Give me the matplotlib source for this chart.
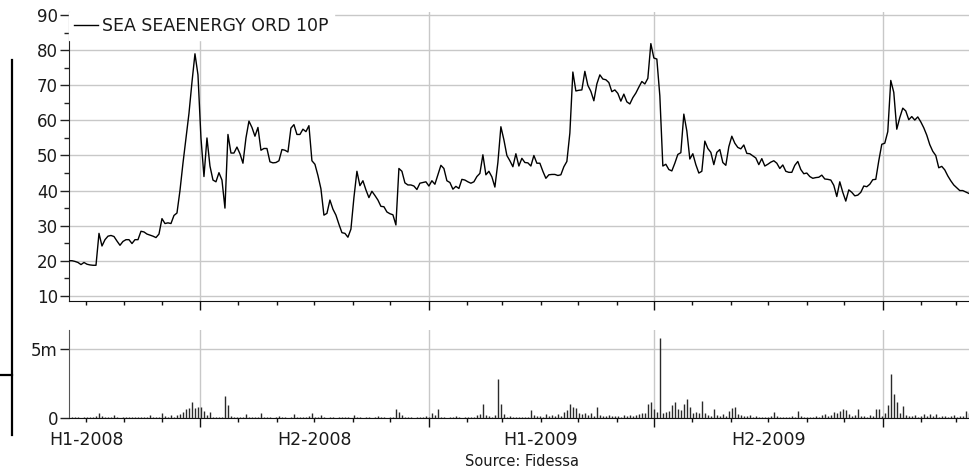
import matplotlib
matplotlib.use("Agg")
import matplotlib.pyplot as plt
import matplotlib.dates as mdates
from matplotlib.lines import Line2D
from matplotlib.ticker import MultipleLocator, FixedLocator, FuncFormatter, NullFormatter
import numpy as np
import pandas as pd

series_name = "SEA SEAENERGY ORD 10P"
source_text = "Source: Fidessa"
start_date = "2008-03-18"
end_date = "2010-03-11"
axis_start = "2008-03-18"
axis_end = "2010-03-12"

price = [
    20.0, 20.0, 19.8, 19.5, 18.9, 19.5, 19.0, 18.8, 18.7, 18.7,
    27.8, 24.2, 26.0, 27.0, 27.2, 26.9, 25.6, 24.4, 25.5, 26.0,
    26.0, 24.9, 26.0, 26.0, 28.4, 28.2, 27.6, 27.3, 27.0, 26.6,
    27.6, 32.0, 30.6, 30.8, 30.6, 32.9, 33.6, 40.0, 47.8, 55.0,
    62.0, 70.9, 79.0, 73.0, 55.0, 44.0, 55.0, 47.0, 43.0, 42.5,
    45.1, 43.0, 35.0, 56.0, 50.7, 50.7, 52.4, 50.5, 47.8, 55.0,
    59.8,
    58.0, 55.5, 58.0, 51.5, 52.0, 52.0, 48.2, 47.9, 48.0, 48.5,
    51.7, 51.5, 51.0, 57.8, 58.8, 56.0, 56.0, 57.5, 56.8, 58.5,
    48.5, 47.5, 44.3, 40.5, 33.0, 33.5, 37.3, 34.7, 33.0, 30.4,
    28.0, 27.8, 26.7, 29.0, 38.0, 45.5, 41.4, 42.8, 40.2, 38.0,
    39.8, 38.6, 37.3, 35.5, 35.4, 33.9, 33.4, 33.1, 30.2, 46.3,
    45.5, 42.2, 41.6, 41.6, 41.3, 40.3, 42.1, 42.3, 42.5, 41.3,
    42.8,
    41.8, 44.5, 47.2, 46.3, 42.8, 42.3, 40.4, 41.2, 40.6, 43.2,
    43.0, 42.5, 42.1, 42.5, 44.0, 44.9, 50.2, 44.5, 45.5, 43.9,
    41.0, 48.0, 58.2, 54.5, 50.0, 48.5, 46.8, 50.5, 47.0, 49.2,
    48.0, 47.9, 47.0, 50.0, 47.8, 47.8, 45.5, 43.5, 44.5, 44.6,
    44.6, 44.3, 44.5, 46.8, 48.3, 56.4, 73.8, 68.4, 68.6, 68.7,
    74.0, 70.0, 68.3, 65.6, 70.4, 73.0, 71.8, 71.6, 70.8, 68.2,
    68.7, 67.7, 65.5, 67.5, 65.3, 64.7, 66.5, 67.8, 69.5, 71.1,
    70.4, 72.0, 81.9, 77.8, 77.5, 67.0, 47.0, 47.5, 46.0,
    45.6, 47.8, 50.3, 50.8, 61.8, 57.0, 49.0, 50.5, 47.4, 45.0,
    45.5, 54.1, 52.0, 50.9, 47.4, 50.9, 51.7, 48.0, 47.2, 52.5,
    55.5, 53.5, 52.3, 51.9, 53.0, 50.6, 50.5, 49.9, 49.3, 47.4,
    49.1, 47.0, 47.5, 48.1, 48.5, 47.8, 46.3, 47.3, 45.5, 45.2,
    45.2, 47.2, 48.3, 46.0, 44.8, 45.0, 44.0, 43.5, 43.7, 43.8,
    44.4, 43.3, 43.2, 43.0, 41.5, 38.3, 42.5, 39.5, 37.0, 40.2,
    39.5, 38.5, 38.7, 39.5, 41.3, 41.1, 41.8, 43.1, 43.2, 48.5,
    53.2, 53.5, 56.8, 71.4, 68.0, 57.5, 60.8, 63.5, 62.7, 60.2,
    61.1, 60.1, 61.0, 59.6, 57.9, 55.8, 53.1, 51.2, 50.0, 46.5,
    46.9, 45.9, 44.2, 42.8, 41.6, 40.8, 40.0, 40.0, 39.6, 39.2,
]

volume_m = [
    0.05, 0.08, 0.06, 0.10, 0.05, 0.08, 0.12, 0.06, 0.10, 0.15,
    0.42, 0.20, 0.10, 0.08, 0.12, 0.22, 0.06, 0.04, 0.10, 0.08,
    0.06, 0.10, 0.06, 0.08, 0.10, 0.12, 0.08, 0.22, 0.06, 0.10,
    0.12, 0.42, 0.15, 0.10, 0.22, 0.10, 0.26, 0.30, 0.48, 0.68,
    0.72, 1.16, 0.77, 0.85, 0.82, 0.50, 0.25, 0.43, 0.08, 0.12,
    0.10, 0.12, 1.64, 1.00, 0.20, 0.10, 0.08, 0.12, 0.06, 0.28,
    0.10, 0.06, 0.08, 0.10, 0.41, 0.08, 0.06, 0.10, 0.05, 0.08,
    0.20, 0.06, 0.08, 0.05, 0.10, 0.34, 0.12, 0.06, 0.10, 0.08,
    0.15, 0.36, 0.12, 0.10, 0.25, 0.08, 0.05, 0.10, 0.06, 0.05,
    0.08, 0.06, 0.10, 0.08, 0.05, 0.22, 0.12, 0.06, 0.05, 0.08,
    0.06, 0.05, 0.10, 0.20, 0.06, 0.08, 0.05, 0.06, 0.10, 0.68,
    0.45, 0.25, 0.10, 0.06, 0.08, 0.05, 0.06, 0.10, 0.08, 0.20,
    0.10, 0.36, 0.25, 0.68, 0.12, 0.08, 0.05, 0.06, 0.08, 0.15,
    0.06, 0.05, 0.08, 0.10, 0.06, 0.12, 0.25, 0.30, 1.04, 0.25,
    0.20, 0.10, 0.25, 2.85, 1.04, 0.30, 0.12, 0.15, 0.08, 0.10,
    0.12, 0.08, 0.10, 0.12, 0.58, 0.25, 0.15, 0.20, 0.12, 0.30,
    0.18, 0.25, 0.15, 0.30, 0.20, 0.45, 0.60, 1.04, 0.80, 0.75,
    0.40, 0.30, 0.38, 0.25, 0.35, 0.20, 0.82, 0.25, 0.20, 0.15,
    0.25, 0.20, 0.15, 0.20, 0.12, 0.25, 0.15, 0.25, 0.18, 0.22,
    0.30, 0.40, 0.35, 1.06, 1.16, 0.70, 0.45, 5.80, 0.40, 0.45,
    0.55, 1.00, 1.16, 0.70, 0.60, 1.04, 1.40, 0.80, 0.35, 0.45,
    0.40, 1.28, 0.40, 0.25, 0.20, 0.65, 0.25, 0.15, 0.30, 0.20,
    0.55, 0.72, 0.85, 0.30, 0.25, 0.15, 0.20, 0.25, 0.12, 0.20,
    0.10, 0.08, 0.12, 0.10, 0.15, 0.45, 0.20, 0.10, 0.08, 0.12,
    0.10, 0.15, 0.08, 0.55, 0.15, 0.10, 0.12, 0.08, 0.10, 0.20,
    0.12, 0.25, 0.30, 0.18, 0.25, 0.45, 0.40, 0.50, 0.68, 0.60,
    0.30, 0.20, 0.25, 0.68, 0.20, 0.15, 0.12, 0.25, 0.20, 0.68,
    0.65, 0.15, 0.35, 1.00, 3.20, 1.76, 1.16, 0.40, 0.92, 0.25,
    0.15, 0.20, 0.25, 0.12, 0.20, 0.30, 0.15, 0.30, 0.20, 0.30,
    0.12, 0.15, 0.20, 0.10, 0.20, 0.25, 0.12, 0.15, 0.20, 0.55,
    0.35,
]

period_labels = {(2008, 4): "H1-2008", (2008, 10): "H2-2008",
                 (2009, 4): "H1-2009", (2009, 10): "H2-2009"}
price_ticks = [10, 20, 30, 40, 50, 60, 70, 80, 90]
volume_ticks = [0, 5]
volume_tick_labels = ["0", "5m"]

t0 = pd.Timestamp(start_date).value
t1 = pd.Timestamp(end_date).value
price_dates = pd.to_datetime(np.linspace(t0, t1, len(price)))
vol_dates = pd.to_datetime(np.linspace(t0, t1, len(volume_m)))

W, H = 970, 468
fig = plt.figure(figsize=(W / 100, H / 100), dpi=100)
fig.patch.set_facecolor("white")

left = 69 / W
width = (W - 69) / W
ax = fig.add_axes([left, 1 - 300.7 / H, width, (300.7 - 11.7) / H])
ax2 = fig.add_axes([left, 1 - 418.3 / H, width, (418.3 - 330) / H])

grid_c = "#c8c8c8"
txt_c = "#1a1a1a"

# price panel
ax.plot(price_dates, price, color="black", lw=1.0, label=series_name, zorder=3)
ax.set_ylim(8.6, 91.0)
ax.yaxis.set_major_locator(FixedLocator(price_ticks))
ax.yaxis.set_minor_locator(MultipleLocator(5))
ax.grid(True, which="major", color=grid_c, lw=1.0)
ax.set_axisbelow(True)

# volume panel
ax2.vlines(vol_dates, 0, volume_m, color="#2a2a2a", lw=1.0)
ax2.set_ylim(0, 6.4)
ax2.yaxis.set_major_locator(FixedLocator(volume_ticks))
ax2.yaxis.set_major_formatter(FuncFormatter(lambda v, p: volume_tick_labels[volume_ticks.index(int(round(v)))] if int(round(v)) in volume_ticks else ""))
ax2.grid(True, which="major", color=grid_c, lw=1.0)
ax2.set_axisbelow(True)

def half_label(v, pos):
    d = mdates.num2date(v)
    return period_labels.get((d.year, d.month), "")

for a in (ax, ax2):
    a.set_xlim(pd.Timestamp(axis_start), pd.Timestamp(axis_end))
    a.xaxis.set_major_locator(mdates.MonthLocator(bymonth=[1, 7]))
    a.xaxis.set_minor_locator(mdates.MonthLocator())
    a.xaxis.set_major_formatter(NullFormatter())
    for s in ("top", "right"):
        a.spines[s].set_visible(False)
    a.spines["left"].set_color("#222222")
    a.spines["bottom"].set_color("#111111")
    a.tick_params(axis="x", which="major", direction="out", length=6.5, width=1, color="#111111")
    a.tick_params(axis="x", which="minor", direction="out", length=3.0, width=1, color="#111111")
    a.tick_params(axis="y", which="major", direction="out", length=6.5, width=1, color="#222222",
                  labelsize=12, labelcolor=txt_c, pad=1.5)
    a.tick_params(axis="y", which="minor", direction="out", length=3.5, width=1, color="#222222")

ax.xaxis.set_minor_formatter(NullFormatter())
ax2.xaxis.set_minor_formatter(FuncFormatter(half_label))
ax2.tick_params(axis="x", which="minor", labelsize=12.5, labelcolor=txt_c, pad=6)
ax2.spines["left"].set_color("#555555")

leg = ax.legend(loc="upper left", bbox_to_anchor=(0, 1), borderaxespad=0, frameon=True,
                facecolor="white", edgecolor="white", framealpha=1, fancybox=False,
                fontsize=12.5, handlelength=1.35, handletextpad=0.25, borderpad=0.3)
for t in leg.get_texts():
    t.set_color(txt_c)
leg.set_zorder(5)

fig.text(522 / W, 1 - 461 / H, source_text, ha="center", va="center", fontsize=10.5, color=txt_c)

# left bracket marker
fig.add_artist(Line2D([12 / W, 12 / W], [1 - 60 / H, 1 - 435 / H], color="black", lw=1.6,
                      transform=fig.transFigure))
fig.add_artist(Line2D([0, 12 / W], [1 - 374.5 / H, 1 - 374.5 / H], color="black", lw=1.6,
                      transform=fig.transFigure))

fig.savefig("out.png", dpi=100, facecolor="white")
